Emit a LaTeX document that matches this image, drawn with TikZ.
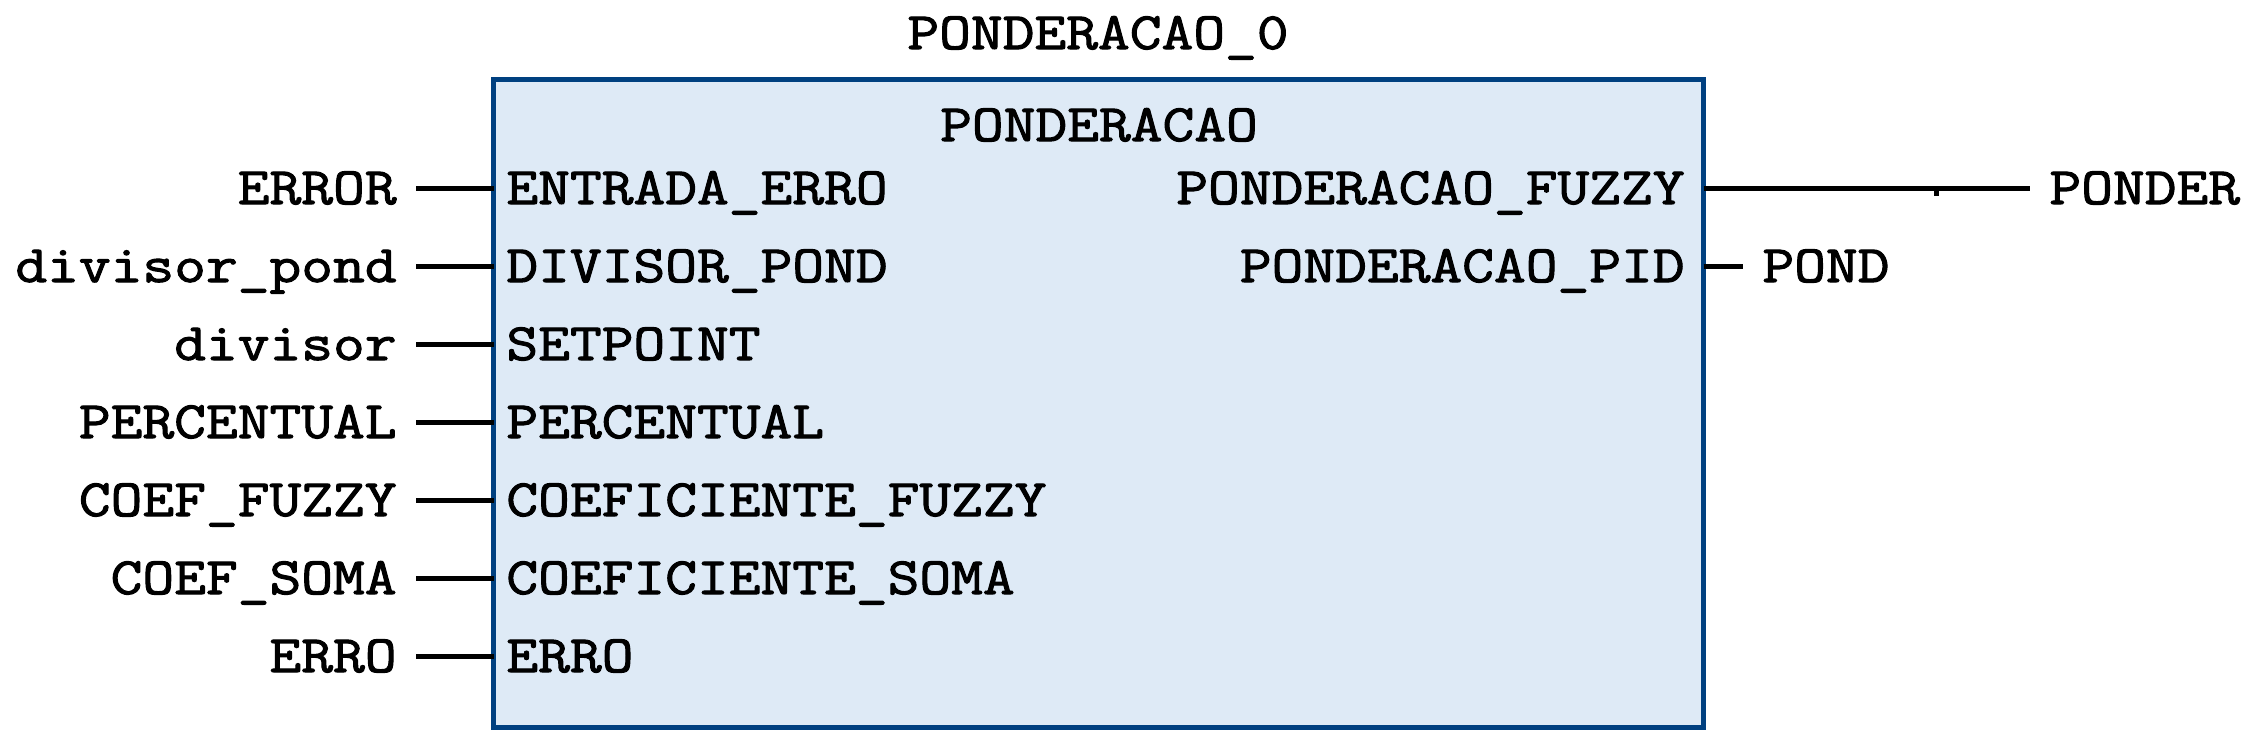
\documentclass[tikz,border=0pt]{standalone}
\usepackage{fontspec}
\usetikzlibrary{calc, positioning}
\newfontfamily\plcfont{Latin Modern Mono}[FakeStretch=1.175, FakeBold=2]
\definecolor{FBBlue}{RGB}{0, 64, 128}
\definecolor{FBFill}{RGB}{222, 234, 246}

\begin{document}
\begin{tikzpicture}[x=0.5pt, y=-0.5pt,
    lbl/.style={font=\plcfont\fontsize{26.25pt}{30pt}\selectfont,
      inner ysep=0pt, text height=16pt, text depth=0pt},
    var/.style={lbl, inner xsep=9.5pt},
    pinin/.style={lbl, inner xsep=6.25pt, anchor=west},
    pinout/.style={lbl, inner xsep=9.25pt, anchor=east},
    wire/.style={line width=2.5pt}]
    \useasboundingbox (0,0) rectangle (2253,750);

    % Bloco de funcao
    \node[draw=FBBlue, fill=FBFill, line width=2.5pt, inner sep=0pt,
      minimum width=605pt, minimum height=323.75pt] (fb) at (1098.5,403.25) {};
    \node[lbl, anchor=base] (inst) at (1098,49) {PONDERACAO\_0};
    \node[lbl, anchor=base] (tipo) at (1099,141) {PONDERACAO};

    % Entradas
    \node[pinin] (iErro) at (493.5,188) {ENTRADA\_ERRO};
    \node[pinin] (iDiv) at (493.5,266) {DIVISOR\_POND};
    \node[pinin] (iSet) at (493.5,344) {SETPOINT};
    \node[pinin] (iPerc) at (493.5,422) {PERCENTUAL};
    \node[pinin] (iCoefF) at (493.5,500) {COEFICIENTE\_FUZZY};
    \node[pinin] (iCoefS) at (493.5,578) {COEFICIENTE\_SOMA};
    \node[pinin] (iErr) at (493.5,656) {ERRO};

    \node[var, anchor=east] (vError) at (416,188) {ERROR};
    \node[var, anchor=east] (vDivPond) at (416,266) {divisor\_pond};
    \node[var, anchor=east] (vDivisor) at (416,344) {divisor};
    \node[var, anchor=east] (vPerc) at (416,422) {PERCENTUAL};
    \node[var, anchor=east] (vCoefF) at (416,500) {COEF\_FUZZY};
    \node[var, anchor=east] (vCoefS) at (416,578) {COEF\_SOMA};
    \node[var, anchor=east] (vErro) at (416,656) {ERRO};

    \draw[wire] (vError.east) -- (iErro.west);
    \draw[wire] (vDivPond.east) -- (iDiv.west);
    \draw[wire] (vDivisor.east) -- (iSet.west);
    \draw[wire] (vPerc.east) -- (iPerc.west);
    \draw[wire] (vCoefF.east) -- (iCoefF.west);
    \draw[wire] (vCoefS.east) -- (iCoefS.west);
    \draw[wire] (vErro.east) -- (iErr.west);

    % Saidas
    \node[pinout] (oFuzzy) at (1703.5,188) {PONDERACAO\_FUZZY};
    \node[pinout] (oPid) at (1703.5,266) {PONDERACAO\_PID};
    \node[var, anchor=west] (vPonder) at (2030,188) {PONDER};
    \node[var, anchor=west] (vPond) at (1743,266) {POND};

    \draw[wire] (oFuzzy.east) -- (vPonder.west);
    \draw[wire] (oPid.east) -- (vPond.west);
    \coordinate (tick) at ($(oFuzzy.east)!0.713!(vPonder.west)$);
    \draw[wire] (tick) -- ++(0,8);
\end{tikzpicture}
\end{document}
